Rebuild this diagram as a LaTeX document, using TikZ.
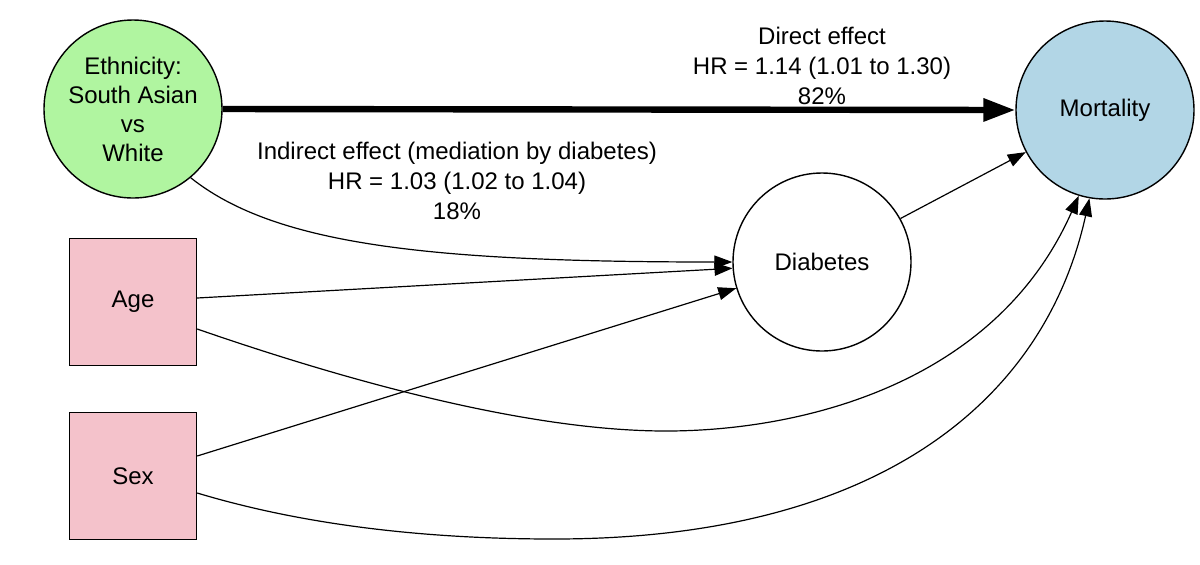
\documentclass[tikz,border=0pt]{standalone}
\usepackage{fontspec}
\setmainfont{Liberation Sans}
\usetikzlibrary{arrows.meta}
\definecolor{ethgreen}{RGB}{176,245,160}
\definecolor{mortblue}{RGB}{178,214,230}
\definecolor{boxpink}{RGB}{244,194,203}
\begin{document}
\begin{tikzpicture}[x=0.5pt,y=-0.5pt,
  every node/.style={font=\fontsize{12}{14.5}\selectfont},
  circ/.style={circle,draw,line width=0.7pt,minimum size=89pt,inner sep=0pt,align=center},
  sq/.style={rectangle,draw,line width=0.7pt,fill=boxpink,minimum size=63.5pt,inner sep=0pt},
  edge/.style={line width=0.6pt,-{Triangle[length=9pt,width=6.5pt]}},
  thickedge/.style={line width=3.2pt,-{Triangle[length=16pt,width=11pt]}},
  lab/.style={align=center,font=\fontsize{12}{15}\selectfont}]
\useasboundingbox (0,0) rectangle (1200,564);
\node[circ,fill=ethgreen] (eth) at (133,109) {Ethnicity:\\South Asian\\vs\\White};
\node[circ,fill=mortblue] (mort) at (1105,110) {Mortality};
\node[circ,fill=white] (diab) at (822,262) {Diabetes};
\node[sq] (age) at (133,302) {Age};
\node[sq] (sex) at (133,476) {Sex};
\node[lab] (dlab) at (822,66) {Direct effect\\HR = 1.14 (1.01 to 1.30)\\82\%};
\node[lab] (ilab) at (457,181) {Indirect effect (mediation by diabetes)\\HR = 1.03 (1.02 to 1.04)\\18\%};
\draw[thickedge] (eth.east) -- (mort.west);
\draw[edge] (eth.-50) .. controls (275,245) and (430,262) .. (diab.west);
\draw[edge] ([yshift=2pt]age.east) -- (diab.-176);
\draw[edge] ([yshift=10pt]sex.east) -- (diab.-163);
\draw[edge] (diab.29) -- (mort.-152);
\draw[edge] ([yshift=-13.5pt]age.east) .. controls (330,375) and (520,431) .. (666,431)
  .. controls (800,431) and (995,385) .. (mort.-107);
\draw[edge] ([yshift=-8.5pt]sex.east) .. controls (320,530) and (450,539) .. (554,539)
  .. controls (880,539) and (1045,400) .. (mort.-100);
\end{tikzpicture}
\end{document}
